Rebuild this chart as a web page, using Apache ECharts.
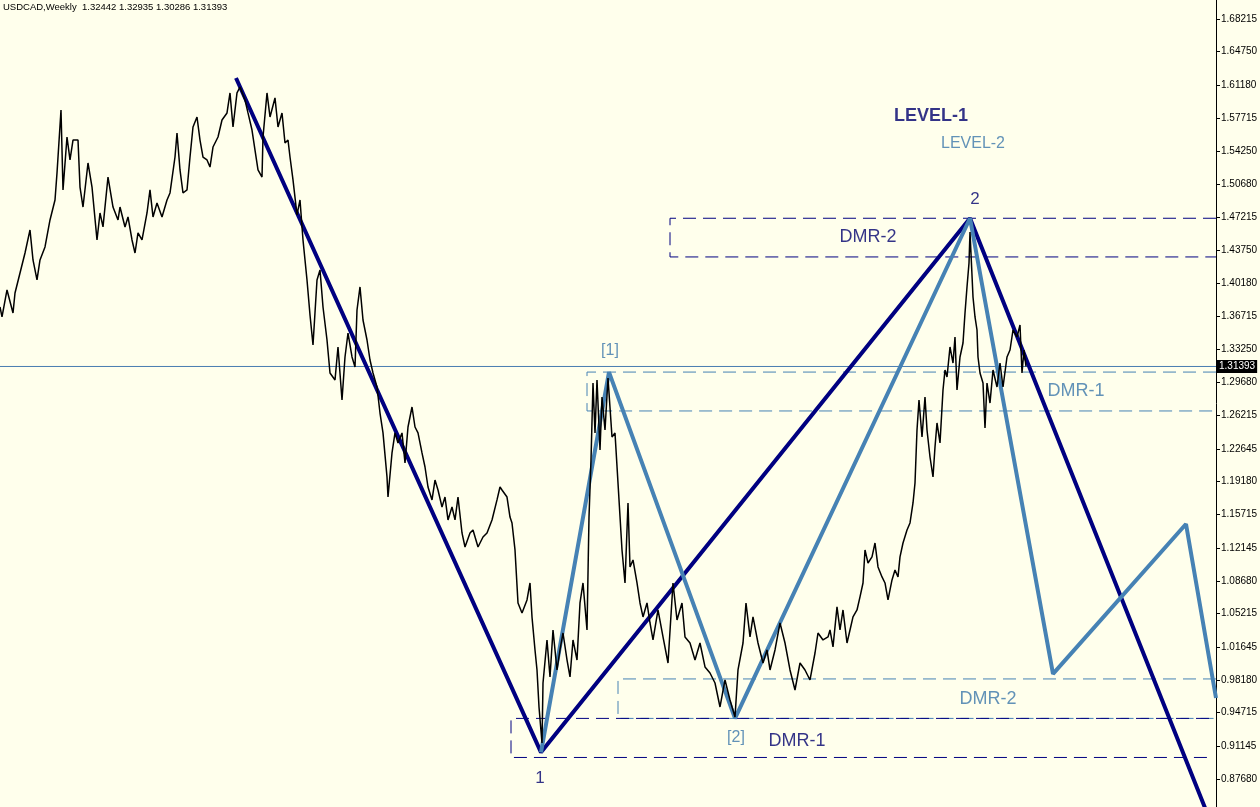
<!DOCTYPE html>
<html>
<head>
<meta charset="utf-8">
<script src="https://cdn.jsdelivr.net/npm/echarts@6/dist/echarts.min.js"></script>
<style>
html,body{margin:0;padding:0;background:#FFFFEC;}
#chart{width:1260px;height:807px;}
</style>
</head>
<body>
<div id="chart"></div>
<script>
// ---- data ----
const titleText = 'USDCAD,Weekly  1.32442 1.32935 1.30286 1.31393';
const currentPrice = 1.31393;
const currentPriceLabel = '1.31393';

const yTickLabels = ['1.68215','1.64750','1.61180','1.57715','1.54250','1.50680','1.47215','1.43750',
  '1.40180','1.36715','1.33250','1.29680','1.26215','1.22645','1.19180','1.15715','1.12145',
  '1.08680','1.05215','1.01645','0.98180','0.94715','0.91145','0.87680'];

// weekly closes (week index from start of visible chart)
const priceWeek = [0,2,7,13,15,20,25,30,33,37,40,45,50,55,57,61,63,67,70,73,78,80,83,88,92,97,100,103,108,113,118,120,125,128,132,135,138,142,147,150,153,157,162,167,170,175,177,180,183,187,190,193,197,200,203,207,210,213,218,222,227,230,233,237,240,245,248,252,255,258,262,263,267,270,275,278,282,285,288,290,293,297,300,303,307,310,313,317,320,323,327,330,335,338,342,345,348,352,355,357,360,363,367,370,373,377,380,383,387,388,392,395,398,402,405,408,412,415,418,422,425,428,432,435,438,442,445,448,452,455,458,462,465,470,473,478,483,487,492,497,500,502,507,510,512,515,518,522,527,530,532,535,537,539,542,543,547,550,553,557,560,563,567,570,573,577,580,583,587,589,591,593,595,597,600,602,605,608,612,615,618,622,625,628,630,633,637,640,643,647,650,653,658,663,668,673,677,682,685,690,695,700,705,710,715,720,725,730,735,738,743,746,750,753,758,763,767,770,775,780,785,790,795,800,805,810,815,818,823,828,830,833,837,840,843,847,850,853,857,860,863,865,868,872,875,878,882,885,888,892,895,898,900,903,907,910,913,915,917,919,922,925,927,930,933,935,937,940,943,945,947,950,953,955,957,960,963,965,967,969,970,973,975,977,978,980,983,985,987,990,993,997,1000,1003,1007,1010,1013,1017,1020,1022,1024,1026];
const priceClose = [1.3770,1.3664,1.3950,1.3706,1.3918,1.4130,1.4342,1.4586,1.4268,1.4056,1.4268,1.4406,1.4692,1.4904,1.5190,1.5857,1.5010,1.5571,1.5328,1.5539,1.5539,1.5041,1.4829,1.5296,1.5041,1.4480,1.4766,1.4618,1.5147,1.4829,1.4692,1.4829,1.4618,1.4724,1.4480,1.4342,1.4554,1.4480,1.4766,1.5010,1.4724,1.4872,1.4724,1.4904,1.4978,1.5359,1.5614,1.5222,1.4978,1.5010,1.5359,1.5677,1.5783,1.5539,1.5359,1.5328,1.5253,1.5465,1.5571,1.5751,1.5826,1.6038,1.5677,1.6038,1.6101,1.5963,1.5826,1.5645,1.5433,1.5222,1.5147,1.5571,1.6038,1.5783,1.5985,1.5677,1.5826,1.5508,1.5539,1.5359,1.5116,1.4745,1.4904,1.4480,1.4056,1.3685,1.3367,1.4056,1.4162,1.3770,1.3420,1.3070,1.2996,1.3346,1.2784,1.3240,1.3494,1.3240,1.3134,1.3738,1.3982,1.3632,1.3420,1.3208,1.3070,1.2922,1.2646,1.2435,1.1968,1.1756,1.2223,1.2435,1.2329,1.2435,1.2117,1.2498,1.2710,1.2498,1.2435,1.2223,1.2074,1.1862,1.1725,1.1936,1.1830,1.1650,1.1756,1.1513,1.1650,1.1513,1.1756,1.1375,1.1226,1.1375,1.1407,1.1226,1.1332,1.1375,1.1513,1.1725,1.1862,1.1830,1.1756,1.1544,1.1481,1.1195,1.0633,1.0527,1.0665,1.0845,1.0485,1.0135,0.9923,0.9531,0.9149,0.9785,1.0241,0.9849,1.0347,0.9923,1.0135,1.0315,1.0029,0.9849,1.0241,1.0029,1.0633,1.0845,1.0347,1.1544,1.2148,1.2964,1.2435,1.2996,1.2254,1.2816,1.2466,1.3017,1.2392,1.2435,1.1905,1.1195,1.0845,1.1693,1.1015,1.1089,1.0845,1.0633,1.0485,1.0633,1.0421,1.0241,1.0559,1.0273,0.9997,1.0845,1.0453,1.0633,1.0273,1.0209,1.0029,1.0209,0.9955,0.9891,0.9785,0.9531,0.9817,0.9605,0.9425,0.9923,1.0209,1.0633,1.0273,1.0485,1.0209,0.9997,1.0135,0.9923,1.0135,1.0421,1.0209,0.9923,0.9711,0.9997,0.9923,0.9817,1.0103,1.0315,1.0241,1.0273,1.0347,1.0167,1.0591,1.0347,1.0559,1.0209,1.0347,1.0485,1.0559,1.0697,1.0845,1.1195,1.1057,1.1121,1.1269,1.1015,1.0909,1.0845,1.0665,1.0877,1.0983,1.0909,1.1121,1.1269,1.1407,1.1481,1.1693,1.1905,1.2466,1.2784,1.2392,1.2816,1.2466,1.2180,1.1968,1.2286,1.2541,1.2329,1.2890,1.3102,1.3028,1.3346,1.3176,1.3452,1.2890,1.3240,1.3388,1.3706,1.3982,1.4236,1.4565,1.3876,1.3664,1.3526,1.3240,1.3070,1.2964,1.2488,1.2964,1.2752,1.3102,1.2922,1.3176,1.2922,1.3240,1.3314,1.3526,1.3452,1.3579,1.3070,1.3314,1.3139];

// LEVEL-1 zigzag (navy)
const level1Week  = [236, 541, 970, 1216];
const level1Price = [1.6196, 0.9050, 1.4710, 0.8170];
// LEVEL-2 zigzag (steel blue)
const level2Week  = [541, 609, 735, 970, 1053, 1186, 1216];
const level2Price = [0.9050, 1.3080, 0.9410, 1.4710, 0.9881, 1.1470, 0.9626];

// DMR zones
const zoneNames  = ['DMR-2 L1', 'DMR-1 L2', 'DMR-2 L2', 'DMR-1 L1'];
const zoneLeft   = [670, 587, 618, 511];
const zoneRight  = [1216, 1216, 1216, 1209];
const zoneTop    = [1.4710, 1.3080, 0.9828, 0.9410];
const zoneBottom = [1.4300, 1.2668, 0.9410, 0.8996];
const zoneLevel  = [1, 2, 2, 1];

// text annotations
const labelText  = ['LEVEL-1', 'LEVEL-2', '2', '[1]', 'DMR-2', 'DMR-1', 'DMR-2', '[2]', 'DMR-1', '1'];
const labelWeek  = [931, 973, 975, 610, 868, 1076, 988, 736, 797, 540];
const labelPrice = [1.5794, 1.5497, 1.4914, 1.3304, 1.4512, 1.2880, 0.9616, 0.9202, 0.9171, 0.8779];
const labelLevel = [1, 2, 1, 2, 1, 2, 2, 2, 1, 1];

// ---- styles ----
const NAVY = '#000080';
const STEEL = '#4682B4';
const NAVY_TEXT = '#00006e';
const STEEL_TEXT = '#3b77aa';
const FONT = '"Liberation Sans", Arial, sans-serif';
const labelSize = [18, 16, 17, 16, 18, 18, 18, 16, 18, 17];
const labelBold = [true, false, false, false, false, false, false, false, false, false];

const zip = (a, b) => a.map((v, i) => [v, b[i]]);

const series = [];

// zone rectangles (open on the right)
zoneNames.forEach((n, i) => {
  const pts = [
    [zoneRight[i], zoneTop[i]],
    [zoneLeft[i], zoneTop[i]],
    [zoneLeft[i], zoneBottom[i]],
    [zoneRight[i], zoneBottom[i]]
  ];
  series.push({
    name: n, type: 'line', data: pts, showSymbol: false, silent: true, z: 2,
    lineStyle: { color: zoneLevel[i] === 1 ? NAVY : STEEL, width: 1, type: [13, 7] },
    animation: false
  });
});

// current price line with price box on the axis
series.push({
  name: 'current', type: 'line', data: [[0, currentPrice], [1216, currentPrice]],
  showSymbol: false, silent: true, z: 2, animation: false,
  lineStyle: { color: '#4a7db0', width: 1 },
  endLabel: {
    show: true, formatter: currentPriceLabel, color: '#fff', backgroundColor: '#000',
    fontSize: 10, fontFamily: FONT, padding: [2, 2, 1, 2], distance: 1
  }
});

series.push({
  name: 'LEVEL-1', type: 'line', data: zip(level1Week, level1Price), showSymbol: false, silent: true,
  z: 3, lineStyle: { color: NAVY, width: 4 }, animation: false, clip: true
});
series.push({
  name: 'LEVEL-2', type: 'line', data: zip(level2Week, level2Price), showSymbol: false, silent: true,
  z: 4, lineStyle: { color: STEEL, width: 4 }, animation: false, clip: true
});
series.push({
  name: 'USDCAD', type: 'line', data: zip(priceWeek, priceClose), showSymbol: false, silent: true,
  z: 5, lineStyle: { color: '#000', width: 1.5 }, animation: false
});

series.push({
  name: 'labels', type: 'scatter', symbolSize: 0, silent: true, z: 6, animation: false,
  data: labelText.map((t, i) => ({
    value: [labelWeek[i], labelPrice[i]],
    label: {
      show: true, formatter: t, position: 'inside',
      color: labelLevel[i] === 1 ? NAVY_TEXT : STEEL_TEXT,
      fontSize: labelSize[i], fontWeight: labelBold[i] ? 'bold' : 'normal', fontFamily: FONT
    }
  }))
});

const chart = echarts.init(document.getElementById('chart'), null, { renderer: 'canvas' });
chart.setOption({
  backgroundColor: '#FFFFEC',
  animation: false,
  title: {
    text: titleText, left: 3, top: 2, padding: 0,
    textStyle: { fontSize: 9.5, fontWeight: 'normal', color: '#000', fontFamily: FONT }
  },
  grid: { left: 0, right: 44, top: 0, bottom: 0, containLabel: false, outerBoundsMode: 'none' },
  xAxis: {
    type: 'value', min: 0, max: 1216, show: false
  },
  yAxis: {
    type: 'value', position: 'right', min: 0.8471, max: 1.7023, scale: true,
    axisLine: { show: true, onZero: false, lineStyle: { color: '#000', width: 1 } },
    axisTick: { show: true, inside: false, length: 4, lineStyle: { color: '#000' },
      customValues: yTickLabels.map(Number) },
    axisLabel: {
      show: true, customValues: yTickLabels.map(Number), margin: 5,
      formatter: v => v.toFixed(5), color: '#000', fontSize: 10, fontFamily: FONT
    },
    splitLine: { show: false }
  },
  series: series
});
</script>
</body>
</html>
